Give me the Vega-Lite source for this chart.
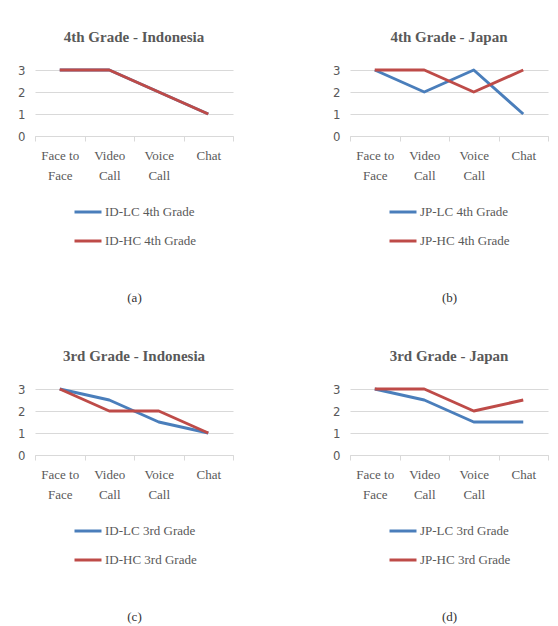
{
  "$schema": "https://vega.github.io/schema/vega-lite/v6.json",
  "padding": {"left": 17, "top": 30, "right": 5, "bottom": 5},
  "background": "white",
  "data": {"values": [
    {"panel": "a", "series": "ID-LC 4th Grade", "mode": "Face to Face", "value": 3},
    {"panel": "a", "series": "ID-LC 4th Grade", "mode": "Video Call", "value": 3},
    {"panel": "a", "series": "ID-LC 4th Grade", "mode": "Voice Call", "value": 2},
    {"panel": "a", "series": "ID-LC 4th Grade", "mode": "Chat", "value": 1},
    {"panel": "a", "series": "ID-HC 4th Grade", "mode": "Face to Face", "value": 3},
    {"panel": "a", "series": "ID-HC 4th Grade", "mode": "Video Call", "value": 3},
    {"panel": "a", "series": "ID-HC 4th Grade", "mode": "Voice Call", "value": 2},
    {"panel": "a", "series": "ID-HC 4th Grade", "mode": "Chat", "value": 1},
    {"panel": "b", "series": "JP-LC 4th Grade", "mode": "Face to Face", "value": 3},
    {"panel": "b", "series": "JP-LC 4th Grade", "mode": "Video Call", "value": 2},
    {"panel": "b", "series": "JP-LC 4th Grade", "mode": "Voice Call", "value": 3},
    {"panel": "b", "series": "JP-LC 4th Grade", "mode": "Chat", "value": 1},
    {"panel": "b", "series": "JP-HC 4th Grade", "mode": "Face to Face", "value": 3},
    {"panel": "b", "series": "JP-HC 4th Grade", "mode": "Video Call", "value": 3},
    {"panel": "b", "series": "JP-HC 4th Grade", "mode": "Voice Call", "value": 2},
    {"panel": "b", "series": "JP-HC 4th Grade", "mode": "Chat", "value": 3},
    {"panel": "c", "series": "ID-LC 3rd Grade", "mode": "Face to Face", "value": 3},
    {"panel": "c", "series": "ID-LC 3rd Grade", "mode": "Video Call", "value": 2.5},
    {"panel": "c", "series": "ID-LC 3rd Grade", "mode": "Voice Call", "value": 1.5},
    {"panel": "c", "series": "ID-LC 3rd Grade", "mode": "Chat", "value": 1},
    {"panel": "c", "series": "ID-HC 3rd Grade", "mode": "Face to Face", "value": 3},
    {"panel": "c", "series": "ID-HC 3rd Grade", "mode": "Video Call", "value": 2},
    {"panel": "c", "series": "ID-HC 3rd Grade", "mode": "Voice Call", "value": 2},
    {"panel": "c", "series": "ID-HC 3rd Grade", "mode": "Chat", "value": 1},
    {"panel": "d", "series": "JP-LC 3rd Grade", "mode": "Face to Face", "value": 3},
    {"panel": "d", "series": "JP-LC 3rd Grade", "mode": "Video Call", "value": 2.5},
    {"panel": "d", "series": "JP-LC 3rd Grade", "mode": "Voice Call", "value": 1.5},
    {"panel": "d", "series": "JP-LC 3rd Grade", "mode": "Chat", "value": 1.5},
    {"panel": "d", "series": "JP-HC 3rd Grade", "mode": "Face to Face", "value": 3},
    {"panel": "d", "series": "JP-HC 3rd Grade", "mode": "Video Call", "value": 3},
    {"panel": "d", "series": "JP-HC 3rd Grade", "mode": "Voice Call", "value": 2},
    {"panel": "d", "series": "JP-HC 3rd Grade", "mode": "Chat", "value": 2.5}
  ]},
  "config": {
    "view": {"stroke": null},
    "title": {"font": "Liberation Serif", "fontSize": 15, "fontWeight": "bold", "color": "#595959", "offset": 19},
    "axisX": {
      "domainColor": "#d9d9d9", "tickColor": "#d9d9d9", "tickSize": 5, "tickBand": "extent",
      "labelFont": "Liberation Serif", "labelFontSize": 13, "labelColor": "#595959", "labelAngle": 0,
      "labelLineHeight": 20, "labelPadding": 8, "grid": false,
      "labelExpr": "isValid(datum.value) ? (datum.value === 'Face to Face' ? ['Face to', 'Face'] : split(datum.value, ' ')) : ''",
      "titleFont": "Liberation Serif", "titleFontSize": 13, "titleFontWeight": "normal", "titleColor": "#333333", "titlePadding": 109
    },
    "axisY": {
      "domain": false, "ticks": false, "gridColor": "#d9d9d9", "values": [0, 1, 2, 3], "labelOverlap": false,
      "labelFont": "Liberation Sans Narrow, DejaVu Sans Condensed, sans-serif", "labelFontSize": 13, "labelColor": "#595959", "labelPadding": 10, "title": null
    },
    "legend": {
      "orient": "none", "legendX": 38, "legendY": 127, "direction": "vertical", "title": null,
      "symbolType": "stroke", "symbolStrokeWidth": 3, "symbolSize": 729, "rowPadding": 7, "labelOffset": 2,
      "labelFont": "Liberation Serif", "labelFontSize": 13, "labelColor": "#595959"
    },
    "line": {"strokeWidth": 3, "strokeJoin": "round"}
  },
  "resolve": {"scale": {"color": "independent"}, "legend": {"color": "independent"}},
  "spacing": 45,
  "vconcat": [
    {
      "resolve": {"scale": {"color": "independent"}, "legend": {"color": "independent"}},
      "spacing": 98,
      "hconcat": [
        {
          "title": "4th Grade - Indonesia",
          "width": 198, "height": 66,
          "transform": [{"filter": "datum.panel === 'a'"}],
          "mark": "line",
          "encoding": {
            "x": {"field": "mode", "type": "nominal", "sort": ["Face to Face", "Video Call", "Voice Call", "Chat"], "bandPosition": 0.5,
                  "scale": {"type": "band", "paddingInner": 0, "paddingOuter": 0},
                  "axis": {"title": "(a)"}},
            "y": {"field": "value", "type": "quantitative", "scale": {"domain": [0, 3], "nice": false}, "axis": {"values": [0, 1, 2, 3], "labelOverlap": false}},
            "color": {"field": "series", "type": "nominal", "scale": {"domain": ["ID-LC 4th Grade", "ID-HC 4th Grade"], "range": ["#4a7ebb", "#be4b48"]}},
            "order": {"field": "series", "sort": "descending"}
          }
        },
        {
          "title": "4th Grade - Japan",
          "width": 198, "height": 66,
          "transform": [{"filter": "datum.panel === 'b'"}],
          "mark": "line",
          "encoding": {
            "x": {"field": "mode", "type": "nominal", "sort": ["Face to Face", "Video Call", "Voice Call", "Chat"], "bandPosition": 0.5,
                  "scale": {"type": "band", "paddingInner": 0, "paddingOuter": 0},
                  "axis": {"title": "(b)"}},
            "y": {"field": "value", "type": "quantitative", "scale": {"domain": [0, 3], "nice": false}, "axis": {"values": [0, 1, 2, 3], "labelOverlap": false}},
            "color": {"field": "series", "type": "nominal", "scale": {"domain": ["JP-LC 4th Grade", "JP-HC 4th Grade"], "range": ["#4a7ebb", "#be4b48"]}}
          }
        }
      ]
    },
    {
      "resolve": {"scale": {"color": "independent"}, "legend": {"color": "independent"}},
      "spacing": 98,
      "hconcat": [
        {
          "title": "3rd Grade - Indonesia",
          "width": 198, "height": 66,
          "transform": [{"filter": "datum.panel === 'c'"}],
          "mark": "line",
          "encoding": {
            "x": {"field": "mode", "type": "nominal", "sort": ["Face to Face", "Video Call", "Voice Call", "Chat"], "bandPosition": 0.5,
                  "scale": {"type": "band", "paddingInner": 0, "paddingOuter": 0},
                  "axis": {"title": "(c)"}},
            "y": {"field": "value", "type": "quantitative", "scale": {"domain": [0, 3], "nice": false}, "axis": {"values": [0, 1, 2, 3], "labelOverlap": false}},
            "color": {"field": "series", "type": "nominal", "scale": {"domain": ["ID-LC 3rd Grade", "ID-HC 3rd Grade"], "range": ["#4a7ebb", "#be4b48"]}}
          }
        },
        {
          "title": "3rd Grade - Japan",
          "width": 198, "height": 66,
          "transform": [{"filter": "datum.panel === 'd'"}],
          "mark": "line",
          "encoding": {
            "x": {"field": "mode", "type": "nominal", "sort": ["Face to Face", "Video Call", "Voice Call", "Chat"], "bandPosition": 0.5,
                  "scale": {"type": "band", "paddingInner": 0, "paddingOuter": 0},
                  "axis": {"title": "(d)"}},
            "y": {"field": "value", "type": "quantitative", "scale": {"domain": [0, 3], "nice": false}, "axis": {"values": [0, 1, 2, 3], "labelOverlap": false}},
            "color": {"field": "series", "type": "nominal", "scale": {"domain": ["JP-LC 3rd Grade", "JP-HC 3rd Grade"], "range": ["#4a7ebb", "#be4b48"]}}
          }
        }
      ]
    }
  ]
}
